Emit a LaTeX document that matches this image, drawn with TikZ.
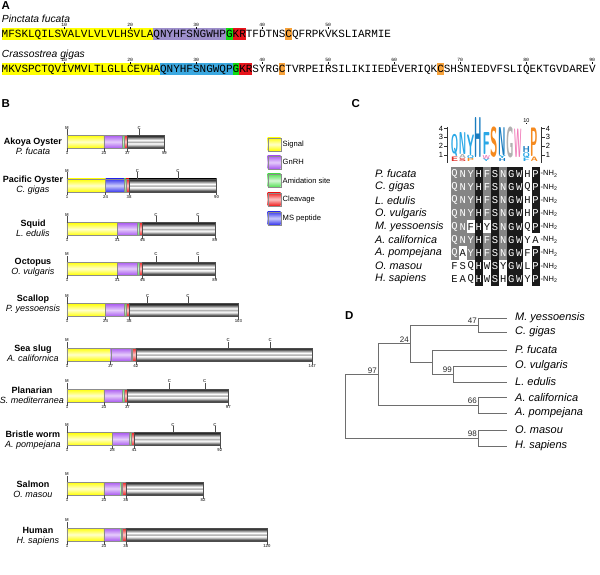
\documentclass[tikz,border=0pt]{standalone}
\usepackage{fontspec}
\setmainfont{Liberation Sans}
\setmonofont{Liberation Mono}
\usepackage{graphicx}
\usetikzlibrary{positioning}

\definecolor{seqyel}{HTML}{FFFF00}
\definecolor{seqlav}{HTML}{9D8FCB}
\definecolor{seqsky}{HTML}{3BA8E0}
\definecolor{seqgrn}{HTML}{11DD11}
\definecolor{seqred}{HTML}{E8141B}
\definecolor{seqora}{HTML}{F7A23A}
\definecolor{barpur}{HTML}{A958F0}
\definecolor{barblu}{HTML}{3737EE}
\definecolor{bargrn}{HTML}{55E055}
\definecolor{barred}{HTML}{F01E1E}
\definecolor{lgcyan}{HTML}{2AA8E6}
\definecolor{lgblue}{HTML}{1A7DC0}
\definecolor{lgora}{HTML}{F58A1F}
\definecolor{lggray}{HTML}{B0B0B0}
\definecolor{lgpink}{HTML}{F07AB8}
\definecolor{lgred}{HTML}{E0302A}
\definecolor{alnk}{HTML}{1A1A1A}
\definecolor{alng}{HTML}{858585}
\definecolor{alnw}{HTML}{FFFFFF}
\definecolor{txtk}{HTML}{FFFFFF}
\definecolor{txtg}{HTML}{FFFFFF}
\definecolor{txtw}{HTML}{111111}
\definecolor{treeln}{HTML}{6E6E6E}

\pgfdeclareverticalshading{tube}{100bp}{color(0bp)=(black!85); color(25bp)=(black!85);
  color(31bp)=(black!60); color(39bp)=(black!15); color(44bp)=(white); color(49bp)=(black!35);
  color(56bp)=(white); color(63bp)=(black!35); color(69bp)=(black!70); color(75bp)=(black!90);
  color(100bp)=(black!90)}

\newcommand{\aapos}[1]{65.3+1.68*(#1)}
\newcommand{\seqbox}[4]{\fill[#4] ({1.5+(#2-1)*6.6},#1) rectangle ({1.5+#3*6.6},{#1+12});}
\newcommand{\prepro}[5]{%
  \path[sig] ({\aapos{1}},{#1-6.5}) rectangle ({\aapos{#2}},{#1+6.5});
  \path[#5] ({\aapos{#2}},{#1-6.5}) rectangle ({\aapos{#3-3}},{#1+6.5});
  \path[amid] ({\aapos{#3-3}},{#1-6.5}) rectangle ({\aapos{#3-2}},{#1+6.5});
  \path[cleave] ({\aapos{#3-2}},{#1-6.5}) rectangle ({\aapos{#3}},{#1+6.5});
  \path[prop] ({\aapos{#3}},{#1-6.5}) rectangle ({\aapos{#4}},{#1+6.5});
  \draw[tickln] ({\aapos{1}},{#1-6.5}) -- ++(0,-6.5) node[wee, above=-1pt] {M};
  \foreach \p in {1,#2,#3,#4}
    \draw[tickln] ({\aapos{\p}},{#1+6.5}) -- ++(0,3.5) node[wee, below=-1pt] {\p};
}
\newcommand{\cysmark}[2]{\foreach \p in {#2}
  \draw[tickln] ({\aapos{\p}},{#1-6.5}) -- ++(0,-6.5) node[wee, above=-1pt] {C};}
\newcommand{\logochar}[5]{\node[inner sep=0, anchor=south west, text=#4]
  at ({450.7+(#1-1)*7.96},#2) {\resizebox*{7.4pt}{#3pt}{\sffamily\bfseries #5}};}
\newcommand{\alnrow}[4]{%
  \node[alnname] (#1) at (375,#2) {#3};
  \foreach \aa/\sh [count=\i] in {#4}
    \node[alncell, fill=aln\sh, text=txt\sh] (#1-\i) at ({446.45+\i*8.1},#2) {\aa};
  \node[nhtwo] (#1-nh) at (540.5,#2) {-NH\textsubscript{2}};
}

\begin{document}
\begin{tikzpicture}[x=1pt,y=-1pt,
  hdr/.style={font=\fontsize{11.5}{12}\selectfont\bfseries, inner sep=0, anchor=north west},
  spec/.style={font=\fontsize{10.3}{12}\selectfont\itshape, inner sep=0, anchor=base west},
  seq/.style={anchor=base west, inner sep=0, font=\fontsize{11}{12}\selectfont\ttfamily},
  posnum/.style={inner sep=0, font=\fontsize{4.8}{5}\selectfont\ttfamily},
  wee/.style={inner sep=0.4pt, font=\fontsize{4.3}{5}\selectfont\bfseries},
  tickln/.style={line width=0.35pt, black!70},
  spname/.style={align=center, inner sep=0, font=\fontsize{9}{10}\selectfont},
  sig/.style={draw=black!45, line width=0.3pt, top color=seqyel, bottom color=seqyel, middle color=seqyel!20},
  gnrh/.style={draw=black!45, line width=0.3pt, top color=barpur, bottom color=barpur, middle color=barpur!30},
  msp/.style={draw=black!45, line width=0.3pt, top color=barblu, bottom color=barblu, middle color=barblu!25},
  amid/.style={draw=black!45, line width=0.3pt, top color=bargrn, bottom color=bargrn, middle color=bargrn!25},
  cleave/.style={draw=black!45, line width=0.3pt, top color=barred, bottom color=barred, middle color=barred!25},
  prop/.style={draw=black!70, line width=0.3pt, shade, shading=tube},
  legtxt/.style={anchor=west, inner sep=0, font=\fontsize{7.6}{9}\selectfont},
  alnname/.style={anchor=west, inner sep=0, font=\fontsize{10.8}{12}\selectfont\itshape},
  alncell/.style={minimum width=8.1pt, minimum height=13.2pt, inner sep=0, font=\fontsize{10.5}{11}\selectfont\ttfamily},
  nhtwo/.style={anchor=west, inner sep=0, font=\fontsize{7.5}{8}\selectfont},
  axlbl/.style={inner sep=0, font=\fontsize{7.5}{8}\selectfont},
  leaf/.style={inner sep=0, text=black, font=\fontsize{11}{12}\selectfont\itshape},
  boot/.style={inner sep=1pt, anchor=south east, text=black!85, font=\fontsize{8}{9}\selectfont}]

\useasboundingbox (0,0) rectangle (600,575);

% A
\node[hdr] (pA) at (1.5,1.5) {A};
\node[spec] (pfuc) at (1.7,22.5) {Pinctata fucata};
\node[spec] (cgig) at (1.7,57.5) {Crassostrea gigas};

\seqbox{28}{1}{23}{seqyel} \seqbox{28}{24}{34}{seqlav} \seqbox{28}{35}{35}{seqgrn}
\seqbox{28}{36}{37}{seqred} \seqbox{28}{44}{44}{seqora}
\seqbox{63}{1}{24}{seqyel} \seqbox{63}{25}{35}{seqsky} \seqbox{63}{36}{36}{seqgrn}
\seqbox{63}{37}{38}{seqred} \seqbox{63}{43}{43}{seqora} \seqbox{63}{67}{67}{seqora}

\node[seq] (seqpf) at (1.5,37.3) {MFSKLQILSVALVLVLVLHSVLAQNYHFSNGWHPGKRTFDTNSCQFRPKVKSLIARMIE};
\node[seq] (seqcg) at (1.5,72.3) {MKVSPCTQVIVMVLTLGLLCEVHAQNYHFSNGWQPGKRSYRGCTVRPEIRSILIKIIEDEVERIQKCSHSNIEDVFSLIQEKTGVDAREV};

\foreach \n in {10,20,...,50} {
  \node[posnum] (pfn\n) at ({1.5+(\n-0.5)*6.6},24.5) {\n};
  \draw[line width=0.3pt] ({1.5+(\n-0.5)*6.6},27.2) -- ++(0,1.6);
}
\foreach \n in {10,20,...,90} {
  \node[posnum] (cgn\n) at ({1.5+(\n-0.5)*6.6},59.5) {\n};
  \draw[line width=0.3pt] ({1.5+(\n-0.5)*6.6},62.2) -- ++(0,1.6);
}

% B
\node[hdr] (pB) at (1.5,99.5) {B};

\prepro{141.7}{23}{37}{59}{gnrh} \cysmark{141.7}{44}
\prepro{185.5}{24}{38}{90}{msp} \cysmark{185.5}{43,67}
\prepro{229}{31}{46}{89}{gnrh} \cysmark{229}{54,79}
\prepro{268.5}{31}{46}{89}{gnrh} \cysmark{268.5}{54,79}
\prepro{310}{24}{38}{103}{gnrh} \cysmark{310}{49,73}
\prepro{354.5}{27}{42}{147}{gnrh} \cysmark{354.5}{97,122}
\prepro{395.5}{23}{37}{97}{gnrh} \cysmark{395.5}{62,83}
\prepro{439}{28}{41}{92}{gnrh} \cysmark{439}{64,89}
\prepro{488.5}{23}{36}{82}{gnrh}
\prepro{534.5}{23}{36}{120}{gnrh}

\node[spname] (akoya) at (33,146) {\textbf{Akoya Oyster}\\\textit{P. fucata}};
\node[spname] (pacific) at (33,185) {\textbf{Pacific Oyster}\\\textit{C. gigas}};
\node[spname] (squid) at (33,228.3) {\textbf{Squid}\\\textit{L. edulis}};
\node[spname] (octopus) at (33,267.7) {\textbf{Octopus}\\\textit{O. vulgaris}};
\node[spname] (scallop) at (33,304.3) {\textbf{Scallop}\\\textit{P. yessoensis}};
\node[spname] (seaslug) at (33,353.7) {\textbf{Sea slug}\\\textit{A. californica}};
\node[spname] (planarian) at (32,395.3) {\textbf{Planarian}\\\textit{S. mediterranea}};
\node[spname] (bristle) at (33,440) {\textbf{Bristle worm}\\\textit{A. pompejana}};
\node[spname] (salmon) at (33,489.2) {\textbf{Salmon}\\\textit{O. masou}};
\node[spname] (human) at (38,536.2) {\textbf{Human}\\\textit{H. sapiens}};

\path[sig] (267.7,137.7) rectangle ++(13,13);
\path[gnrh] (267.7,155.7) rectangle ++(13,13);
\path[amid] (267.7,174) rectangle ++(13,13);
\path[cleave] (267.7,192.7) rectangle ++(13,13);
\path[msp] (267.7,211.7) rectangle ++(13,13);
\node[legtxt] (legsig) at (282.5,144.2) {Signal};
\node[legtxt] (leggnrh) at (282.5,162.2) {GnRH};
\node[legtxt] (legamid) at (282.5,180.5) {Amidation site};
\node[legtxt] (legcleave) at (282.5,199.2) {Cleavage};
\node[legtxt] (legms) at (282.5,218.2) {MS peptide};

% C
\node[hdr] (pC) at (351.5,99) {C};

\logochar{1}{157}{22}{lgcyan}{Q}    \logochar{1}{162}{4.5}{lgred}{E}
\logochar{2}{155}{22}{lgcyan}{N}    \logochar{2}{159}{4}{lggray}{A}  \logochar{2}{162}{3}{lgred}{S}
\logochar{3}{155.5}{20.5}{lgcyan}{Y} \logochar{3}{159}{3.5}{lgcyan}{Q} \logochar{3}{162}{3}{lgora}{P}
\logochar{4}{157.5}{40}{lgblue}{H}
\logochar{5}{155}{22}{lgcyan}{F}    \logochar{5}{159.5}{4}{lgpink}{W} \logochar{5}{162}{2.5}{lgcyan}{Y}
\logochar{6}{157.5}{30.5}{lgora}{S}
\logochar{7}{156}{28}{lgblue}{N}    \logochar{7}{159}{3}{lgcyan}{Y}  \logochar{7}{162}{3}{lgblue}{H}
\logochar{8}{158}{31}{lggray}{G}
\logochar{9}{158}{28.5}{lgpink}{W}
\logochar{10}{152.5}{6}{lgblue}{H}  \logochar{10}{158}{5.5}{lgcyan}{Q} \logochar{10}{162}{3.5}{lgcyan}{F}
\logochar{11}{156.5}{28.5}{lgora}{P} \logochar{11}{161.5}{4.5}{lgora}{A}

\draw[line width=0.5pt, black!80] (447.3,127) -- (447.3,163.5);
\draw[line width=0.5pt, black!80] (541.7,127) -- (541.7,163.5);
\foreach \b/\yy in {4/128.7,3/137.4,2/146.1,1/154.8} {
  \draw[line width=0.5pt, black!80] (447.3,\yy) -- ++(-3.5,0);
  \draw[line width=0.5pt, black!80] (541.7,\yy) -- ++(3.5,0);
  \node[axlbl, anchor=east] (lax\b) at (443.3,\yy) {\b};
  \node[axlbl, anchor=west] (rax\b) at (545.7,\yy) {\b};
}
\node[posnum, font=\fontsize{5.5}{6}\selectfont] (col10) at (526.4,120.5) {10};
\draw[line width=0.3pt] (526.4,123) -- ++(0,1.5);

\alnrow{apfuc}{174}{P. fucata}{Q/g,N/g,Y/g,H/k,F/g,S/k,N/g,G/k,W/k,H/w,P/k}
\alnrow{acgig}{187.2}{C. gigas}{Q/g,N/g,Y/g,H/k,F/g,S/k,N/g,G/k,W/k,Q/w,P/k}
\alnrow{aledu}{200.3}{L. edulis}{Q/g,N/g,Y/g,H/k,F/g,S/k,N/g,G/k,W/k,H/w,P/k}
\alnrow{aovul}{213.5}{O. vulgaris}{Q/g,N/g,Y/g,H/k,F/g,S/k,N/g,G/k,W/k,H/w,P/k}
\alnrow{amyes}{226.6}{M. yessoensis}{Q/g,N/g,F/w,H/k,Y/w,S/k,N/g,G/k,W/k,Q/w,P/k}
\alnrow{aacal}{239.8}{A. californica}{Q/g,N/g,Y/g,H/k,F/g,S/k,N/g,G/k,W/k,Y/w,A/w}
\alnrow{aapom}{252.9}{A. pompejana}{Q/g,A/w,Y/g,H/k,F/g,S/k,N/g,G/k,W/k,F/w,P/k}
\alnrow{aomas}{266.1}{O. masou}{F/w,S/w,Q/w,H/k,W/w,S/k,Y/w,G/k,W/k,L/w,P/k}
\alnrow{ahsap}{279.2}{H. sapiens}{E/w,A/w,Q/w,H/k,W/w,S/k,H/w,G/k,W/k,Y/w,P/k}

% D
\node[hdr] (pD) at (345,311.5) {D};

\coordinate (lmyes) at (507,318);
\coordinate (lcgig) at (507,332);
\coordinate (lpfuc) at (507,350);
\coordinate (lovul) at (507,366);
\coordinate (ledul) at (507,382);
\coordinate (lacal) at (507,397.5);
\coordinate (lapom) at (507,413);
\coordinate (lomas) at (507,430);
\coordinate (lhsap) at (507,446);

\coordinate (n47) at (478,325);
\coordinate (n99) at (453,374);
\coordinate (nfuc) at (432,362);
\coordinate (n24) at (410,343.5);
\coordinate (n66) at (478,405.25);
\coordinate (n97) at (378,374.4);
\coordinate (n98) at (478,438);
\coordinate (nroot) at (345,406.2);

\tikzset{every path/.style={line width=0.8pt, draw=treeln}}
\draw (nroot) |- (n97);
\draw (nroot) |- (n98);
\draw (n97) |- (n24);
\draw (n97) |- (n66);
\draw (n24) |- (n47);
\draw (n24) |- (nfuc);
\draw (n47) |- (lmyes);
\draw (n47) |- (lcgig);
\draw (nfuc) |- (lpfuc);
\draw (nfuc) |- (n99);
\draw (n99) |- (lovul);
\draw (n99) |- (ledul);
\draw (n66) |- (lacal);
\draw (n66) |- (lapom);
\draw (n98) |- (lomas);
\draw (n98) |- (lhsap);
\tikzset{every path/.style={}}

\node[boot] (b47) at (n47) {47};
\node[boot] (b24) at (n24) {24};
\node[boot] (b99) at (n99) {99};
\node[boot] (b66) at (n66) {66};
\node[boot] (b97) at (n97) {97};
\node[boot] (b98) at (n98) {98};

\node[leaf, right=8pt of lmyes] (tmyes) {M. yessoensis};
\node[leaf, right=8pt of lcgig] (tcgig) {C. gigas};
\node[leaf, right=8pt of lpfuc] (tpfuc) {P. fucata};
\node[leaf, right=8pt of lovul] (tovul) {O. vulgaris};
\node[leaf, right=8pt of ledul] (tedul) {L. edulis};
\node[leaf, right=8pt of lacal] (tacal) {A. californica};
\node[leaf, right=8pt of lapom] (tapom) {A. pompejana};
\node[leaf, right=8pt of lomas] (tomas) {O. masou};
\node[leaf, right=8pt of lhsap] (thsap) {H. sapiens};

\end{tikzpicture}
\end{document}
